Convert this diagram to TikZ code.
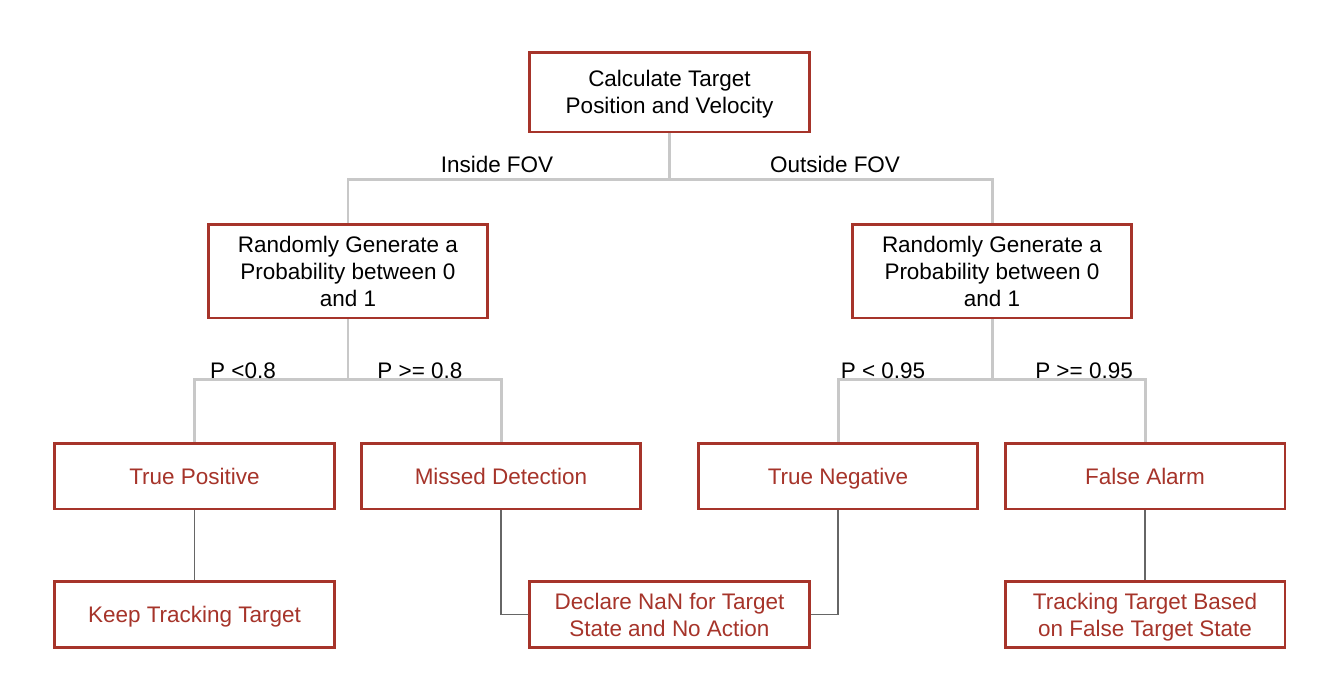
\documentclass[tikz,border=0pt]{standalone}
\usepackage{fontspec}
\setmainfont{Liberation Sans}
\usepackage{tikz}
\usetikzlibrary{arrows,arrows.meta}

\definecolor{boxred}{RGB}{166,52,42}
\definecolor{lightline}{RGB}{200,200,200}
\definecolor{darkline}{RGB}{102,102,102}

\begin{document}
\begin{tikzpicture}[
        x=0.02cm, y=-0.02cm,
        font=\fontsize{12.8}{15.4}\selectfont]

        \tikzstyle{every node}=[align=center, text depth=0pt]
        \tikzstyle{box}=[
            draw = boxred,
            line width = 1.7pt,
            fill = white,
            minimum width = 5.6cm,
            inner sep = 0pt
        ]
        \tikzset{tall/.style={box, minimum height=1.88cm}}
        \tikzset{leaf/.style={box, minimum height=1.32cm, text=boxred}}
        \tikzset{split/.style={draw=lightline, line width=1.7pt}}
        \tikzset{link/.style={draw=darkline, line width=0.7pt}}

        \useasboundingbox (0,0) rectangle (1344,690);

        \node[box, minimum height=1.6cm] (calc) at (669.5,92) {Calculate Target\\Position and Velocity};
        \node[tall] (rin) at (348,271) {Randomly Generate a\\Probability between 0\\and 1};
        \node[tall] (rout) at (992,271) {Randomly Generate a\\Probability between 0\\and 1};

        \node[leaf] (tp) at (194.5,476) {True Positive};
        \node[leaf] (md) at (501,476) {Missed Detection};
        \node[leaf] (tn) at (838,476) {True Negative};
        \node[leaf] (fa) at (1145,476) {False Alarm};

        \node[leaf] (keep) at (194.5,614.5) {Keep Tracking Target};
        \node[leaf] (nan) at (669.5,614.5) {Declare NaN for Target\\State and No Action};
        \node[leaf] (track) at (1145,614.5) {Tracking Target Based\\on False Target State};

        % branches
        \draw[split] (calc.south) -- ++(0,46) -| (rin.north);
        \draw[split] (calc.south) -- ++(0,46) -| (rout.north);
        \draw[split] (rin.south) -- ++(0,60) -| (tp.north);
        \draw[split] (rin.south) -- ++(0,60) -| (md.north);
        \draw[split] (rout.south) -- ++(0,60) -| (tn.north);
        \draw[split] (rout.south) -- ++(0,60) -| (fa.north);

        \draw[link] (tp.south) -- (keep.north);
        \draw[link] (md.south) |- (nan.west);
        \draw[link] (tn.south) |- (nan.east);
        \draw[link] (fa.south) -- (track.north);

        % branch labels
        \node (lin) at (497,164) {Inside FOV};
        \node (lout) at (835,164) {Outside FOV};
        \node (p1) at (243,371) {P <0.8};
        \node (p2) at (420,371) {P >= 0.8};
        \node (p3) at (883,371) {P < 0.95};
        \node (p4) at (1084,371) {P >= 0.95};
    \end{tikzpicture}
\end{document}
